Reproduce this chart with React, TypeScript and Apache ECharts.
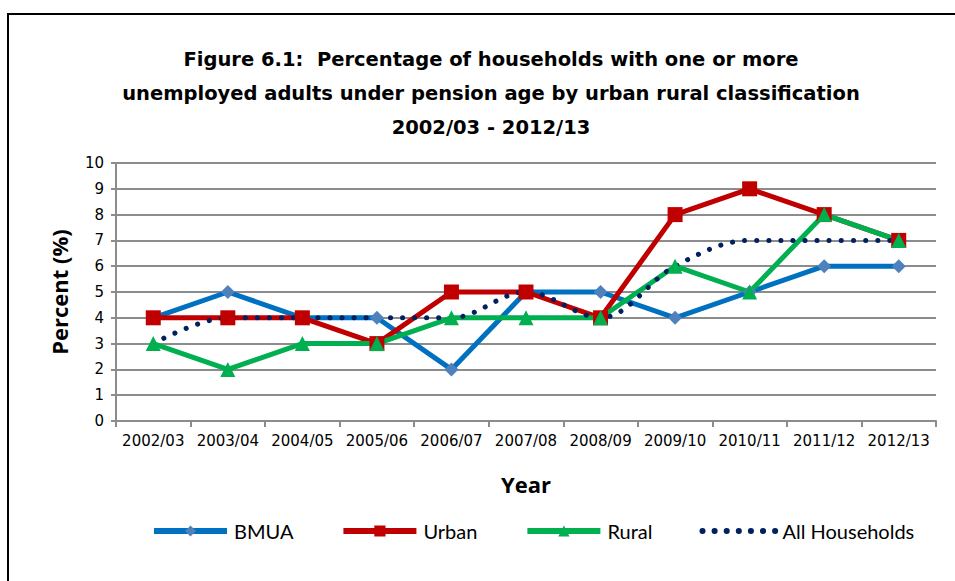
import React, { useEffect, useRef } from "react";
import * as echarts from "echarts";

const years = ["2002/03","2003/04","2004/05","2005/06","2006/07","2007/08","2008/09","2009/10","2010/11","2011/12","2012/13"];
const bmua = [4,5,4,4,2,5,5,4,5,6,6];
const urban = [4,4,4,3,5,5,4,8,9,8,7];
const rural = [3,2,3,3,4,4,4,6,5,8,7];
const allHouseholds = [3,4,4,4,4,5,4,6,7,7,7];
const yTicks = { min: 0, max: 10, interval: 1 };

const TITLE_FONT = "'DejaVu Sans', sans-serif";
const LABEL_FONT = "'DejaVu Sans', sans-serif";
const NAME_FONT = "'Open Sans', sans-serif";
const LEGEND_FONT = "Lato, sans-serif";

export default function App() {
  const ref = useRef<HTMLDivElement>(null);
  useEffect(() => {
    if (!ref.current) return;
    const chart = echarts.init(ref.current, undefined, { renderer: "svg" });
    chart.setOption({
      animation: false,
      backgroundColor: "#fff",
      graphic: [
        { type: "rect", shape: { x: 8, y: 14, width: 1000, height: 700 }, style: { fill: "none", stroke: "#000", lineWidth: 2 }, silent: true },
      ],
      title: {
        text: "Figure 6.1:  Percentage of households with one or more\nunemployed adults under pension age by urban rural classification\n2002/03 - 2012/13",
        left: 486, top: 37, textAlign: "center",
        textStyle: { fontFamily: TITLE_FONT, fontWeight: "bold", fontSize: 19.5, lineHeight: 34, color: "#000" },
      },
      legend: {
        top: 516, left: 146, width: 800, itemGap: 47, itemWidth: 73, itemHeight: 14,
        textStyle: { fontFamily: LEGEND_FONT, fontSize: 20, color: "#000", padding: [0, 0, 0, 2] },
        data: [
          { name: "BMUA", lineStyle: { width: 6 } },
          { name: "Urban", lineStyle: { width: 6 } },
          { name: "Rural", lineStyle: { width: 6 } },
          { name: "All Households", itemStyle: { opacity: 0 }, lineStyle: { width: 6 } },
        ],
      },
      grid: { left: 116, right: 19, top: 163, bottom: 160, containLabel: false },
      xAxis: {
        type: "category", data: years, boundaryGap: true,
        name: "Year", nameLocation: "middle", nameGap: 52,
        nameTextStyle: { fontFamily: NAME_FONT, fontWeight: "bold", fontSize: 22, color: "#000" },
        axisLine: { lineStyle: { color: "#8c8c8c", width: 2 } },
        axisTick: { show: true, length: 6, lineStyle: { color: "#8c8c8c", width: 2 } },
        axisLabel: { interval: 0, fontFamily: LABEL_FONT, fontSize: 15, color: "#000", margin: 12 },
      },
      yAxis: {
        type: "value", min: yTicks.min, max: yTicks.max, interval: yTicks.interval,
        name: "Percent (%)", nameLocation: "middle", nameGap: 46, nameRotate: 90,
        nameTextStyle: { fontFamily: NAME_FONT, fontWeight: "bold", fontSize: 22, color: "#000" },
        axisLine: { show: true, lineStyle: { color: "#8c8c8c", width: 2 } },
        axisTick: { show: true, length: 5, lineStyle: { color: "#8c8c8c", width: 2 } },
        axisLabel: { fontFamily: LABEL_FONT, fontSize: 15, color: "#000", margin: 12 },
        splitLine: { lineStyle: { color: "#8c8c8c", width: 2 } },
      },
      series: [
        {
          name: "BMUA", type: "line", data: bmua, symbol: "diamond", symbolSize: 14,
          lineStyle: { color: "#0070C0", width: 5 }, itemStyle: { color: "#4F81BD" },
        },
        {
          name: "Urban", type: "line", data: urban, symbol: "rect", symbolSize: 15,
          lineStyle: { color: "#C00000", width: 5 }, itemStyle: { color: "#C00000" },
        },
        {
          name: "Rural", type: "line", data: rural, symbol: "triangle", symbolSize: 15,
          lineStyle: { color: "#00B050", width: 5 }, itemStyle: { color: "#00B050" },
        },
        {
          name: "All Households", type: "line", data: allHouseholds, symbol: "none", smooth: 0.35,
          lineStyle: { color: "#002060", width: 5, type: [0.1, 12], cap: "round" }, itemStyle: { color: "#002060" },
        },
      ],
    });
    return () => chart.dispose();
  }, []);
  return <div ref={ref} style={{ position: "fixed", left: 0, top: 0, width: 955, height: 581 }} />;
}
